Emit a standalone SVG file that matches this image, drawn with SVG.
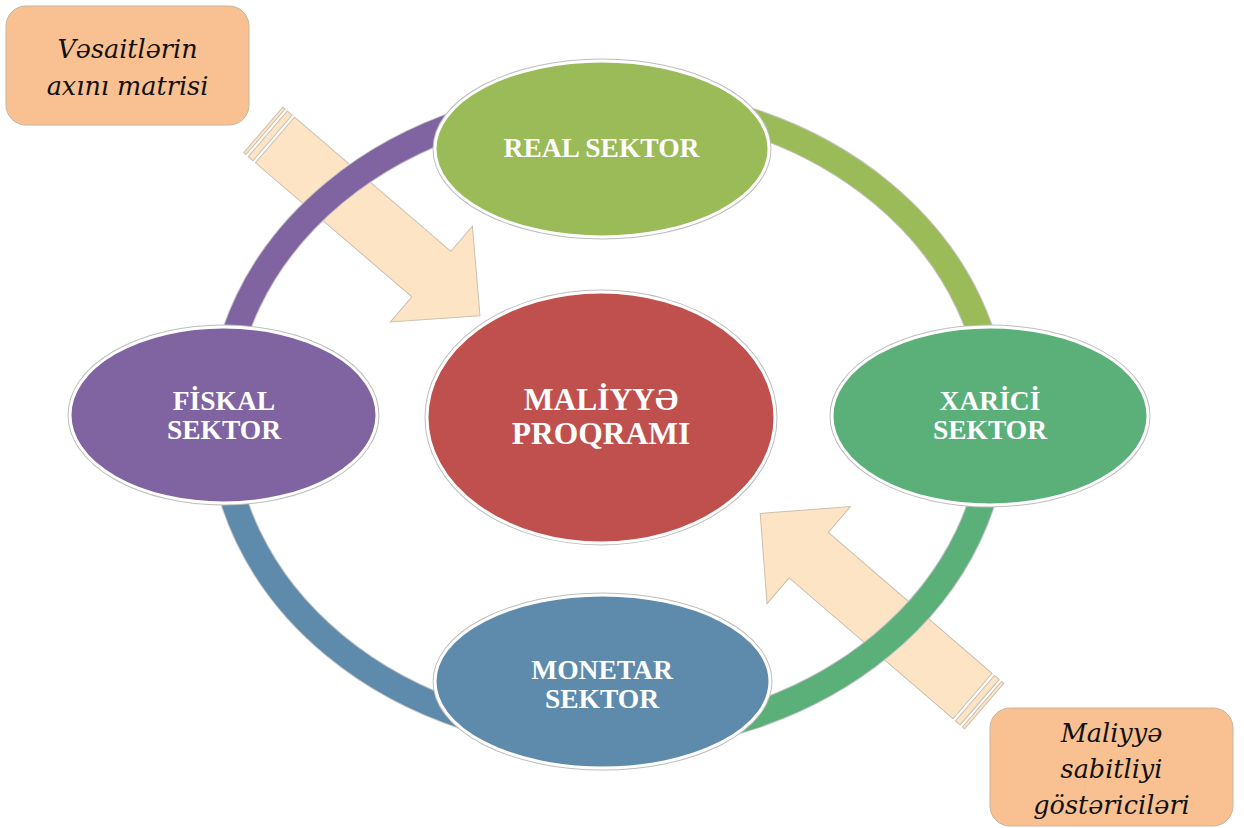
<svg xmlns="http://www.w3.org/2000/svg" width="1244" height="828" viewBox="0 0 1244 828">
<style>
.bg{fill:#ffffff}
.arrow{fill:#FDE4C5;stroke:#CDBFAE;stroke-width:1;stroke-linejoin:miter}
.ringbase{fill:none;stroke:#C4C4C4;stroke-width:27.5}
.ring{fill:none;stroke-width:25.5}
.halo{fill:none;stroke:#BDBDBD;stroke-width:5}
.body{stroke:#ffffff;stroke-width:3}
.lbl{font-family:"Liberation Serif","Times New Roman",serif;font-weight:bold;fill:#ffffff;text-anchor:middle}
.call{fill:#F9C192;stroke:#C8B4A0;stroke-width:1}
.ctxt{font-family:"DejaVu Serif",serif;font-style:italic;font-size:25.5px;fill:#111111;text-anchor:middle}
</style>
<defs>
<path id="stripes" d="M-15.5,-30 L-12.5,-30 L-12.5,30 L-15.5,30 Z M-9.5,-30 L-3.2,-30 L-3.2,30 L-9.5,30 Z"/>
</defs>
<rect class="bg" x="0" y="0" width="1244" height="828"/>
<g id="connectors">
  <g id="arrow-top-left" transform="translate(275,140) rotate(40.6)">
    <use href="#stripes" class="arrow"/>
    <path class="arrow" d="M0,-30 L206,-30 L206,-63 L270,0 L206,63 L206,30 L0,30 Z"/>
  </g>
  <g id="arrow-bottom-right" transform="translate(972.5,696) rotate(220.7)">
    <use href="#stripes" class="arrow"/>
    <path class="arrow" d="M0,-30 L216,-30 L216,-64 L280,0 L216,64 L216,30 L0,30 Z"/>
  </g>
  <g id="ring">
    <ellipse class="ringbase" cx="608" cy="419" rx="387" ry="320"/>
    <path class="ring" stroke="#8064A2" d="M221,419 A387,320 0 0 1 608,99"/>
    <path class="ring" stroke="#9BBB59" d="M608,99 A387,320 0 0 1 995,419"/>
    <path class="ring" stroke="#5BB07A" d="M995,419 A387,320 0 0 1 608,739"/>
    <path class="ring" stroke="#5E8BAC" d="M608,739 A387,320 0 0 1 221,419"/>
  </g>
</g>
<g id="node-real">
  <ellipse class="halo" cx="602" cy="149" rx="167" ry="88"/>
  <ellipse class="body" fill="#9BBB59" cx="602" cy="149" rx="167" ry="88"/>
  <text class="lbl" x="601.5" y="157" font-size="27.5">REAL SEKTOR</text>
</g>
<g id="node-fiskal">
  <ellipse class="halo" cx="223.5" cy="415" rx="153.5" ry="88"/>
  <ellipse class="body" fill="#8064A2" cx="223.5" cy="415" rx="153.5" ry="88"/>
  <text class="lbl" x="224" y="410" font-size="27.5">FİSKAL</text>
  <text class="lbl" x="224" y="439" font-size="27.5">SEKTOR</text>
</g>
<g id="node-xarici">
  <ellipse class="halo" cx="990" cy="416" rx="158" ry="89"/>
  <ellipse class="body" fill="#5BB07A" cx="990" cy="416" rx="158" ry="89"/>
  <text class="lbl" x="990" y="410" font-size="27.5">XARİCİ</text>
  <text class="lbl" x="990" y="439" font-size="27.5">SEKTOR</text>
</g>
<g id="node-monetar">
  <ellipse class="halo" cx="602.5" cy="681.5" rx="167.5" ry="86.5"/>
  <ellipse class="body" fill="#5E8BAC" cx="602.5" cy="681.5" rx="167.5" ry="86.5"/>
  <text class="lbl" x="602" y="679" font-size="27.5">MONETAR</text>
  <text class="lbl" x="602" y="708" font-size="27.5">SEKTOR</text>
</g>
<g id="node-maliyye">
  <ellipse class="halo" cx="601" cy="417.5" rx="174" ry="125.5"/>
  <ellipse class="body" fill="#C0504D" cx="601" cy="417.5" rx="174" ry="125.5"/>
  <text class="lbl" x="601" y="410" font-size="31.5">MALİYYƏ</text>
  <text class="lbl" x="601" y="444" font-size="31.5">PROQRAMI</text>
</g>
<g id="callout-top-left">
  <rect class="call" x="6" y="6" width="243" height="119" rx="20" ry="20"/>
  <text class="ctxt" x="127.5" y="58">Vəsaitlərin</text>
  <text class="ctxt" x="127.5" y="95">axını matrisi</text>
</g>
<g id="callout-bottom-right">
  <rect class="call" x="990" y="708" width="243" height="118" rx="20" ry="20"/>
  <text class="ctxt" x="1111.5" y="742">Maliyyə</text>
  <text class="ctxt" x="1111.5" y="778">sabitliyi</text>
  <text class="ctxt" x="1111.5" y="814">göstəriciləri</text>
</g>
</svg>
